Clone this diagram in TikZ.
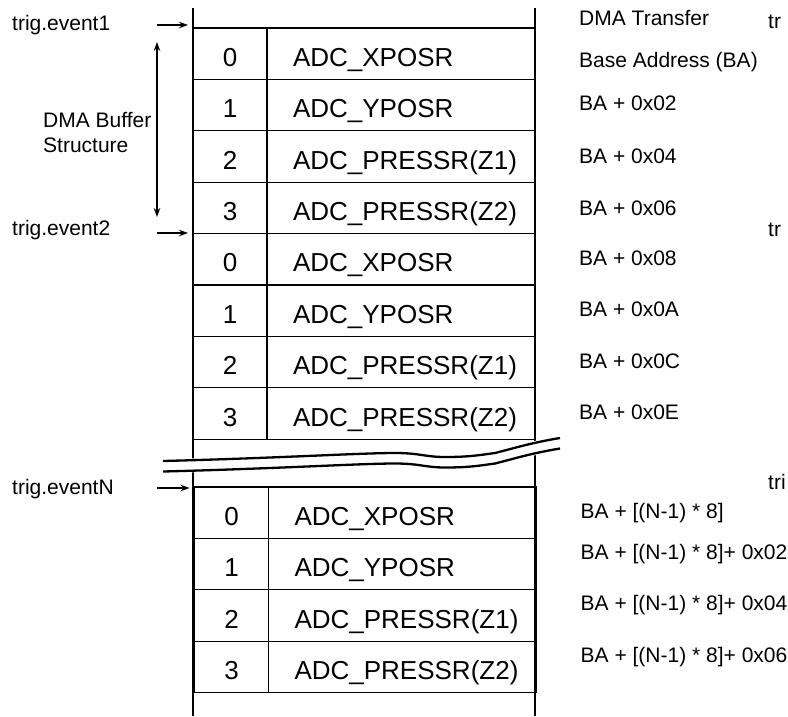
\documentclass[tikz,border=0pt]{standalone}
\usepackage{fontspec}
\setmainfont{Liberation Sans}
\usetikzlibrary{arrows.meta,positioning}
\newcommand{\bufrow}[4]{%
  \node[idx] (#1i) at (#2) {#3};
  \node[reg,right=0pt of #1i] (#1r) {\makebox[216pt][l]{#4}};}
\newcommand{\wavepath}{(163,-461) .. controls (280,-458) and (360,-453) .. (395,-453)
  .. controls (420,-453) and (425,-457) .. (445,-457)
  .. controls (470,-457) and (480,-455) .. (495,-453)
  .. controls (515,-448) and (530,-443) .. (560,-438)}
\begin{document}
\begin{tikzpicture}[x=1pt,y=1pt,
  idx/.style={draw,line width=1.3pt,outer sep=0pt,inner sep=0pt,minimum width=74pt,
              minimum height=51.4pt,text height=27pt,text depth=2pt,
              font=\fontsize{26}{30}\selectfont},
  reg/.style={idx,minimum width=268pt},
  lab/.style={font=\fontsize{21}{25}\selectfont,inner sep=0pt,anchor=west},
  fl/.style={-{Stealth[length=9pt,width=6.5pt]},line width=1.2pt},
  dfl/.style={fl,{Stealth[length=9pt,width=6.5pt]}-{Stealth[length=9pt,width=6.5pt]}},
  wall/.style={line width=2.6pt},
  brk/.style={line width=2.3pt}]
\useasboundingbox (0,0) rectangle (788,-716);
% ---- buffer, first two events
\bufrow{t0}{230,-53.7}{0}{ADC\_XPOSR}
\bufrow{t1}{230,-105.1}{1}{ADC\_YPOSR}
\bufrow{t2}{230,-156.5}{2}{ADC\_PRESSR(Z1)}
\bufrow{t3}{230,-207.9}{3}{ADC\_PRESSR(Z2)}
\bufrow{t4}{230,-259.3}{0}{ADC\_XPOSR}
\bufrow{t5}{230,-310.7}{1}{ADC\_YPOSR}
\bufrow{t6}{230,-362.1}{2}{ADC\_PRESSR(Z1)}
\bufrow{t7}{230,-413.5}{3}{ADC\_PRESSR(Z2)}
% ---- buffer, event N
\bufrow{n0}{231.5,-512.7}{0}{ADC\_XPOSR}
\bufrow{n1}{231.5,-564.1}{1}{ADC\_YPOSR}
\bufrow{n2}{231.5,-615.5}{2}{ADC\_PRESSR(Z1)}
\bufrow{n3}{231.5,-666.9}{3}{ADC\_PRESSR(Z2)}
% ---- side walls and break
\draw[wall] (193,-8) -- (193,-716);
\draw[wall] (535,-8) -- (535,-716);
\draw[white,line width=14pt,yshift=-5.25pt] \wavepath;
\draw[brk] \wavepath;
\draw[brk,yshift=-10.5pt] \wavepath;
% ---- addresses
\node[lab,align=left] (ba) at (579,-41) {DMA Transfer\\[17pt]Base Address (BA)};
\node[lab,right=44pt of t1r,yshift=2pt] (a1) {BA + 0x02};
\node[lab,right=44pt of t2r,yshift=0pt] (a2) {BA + 0x04};
\node[lab,right=44pt of t3r,yshift=0pt] (a3) {BA + 0x06};
\node[lab,right=44pt of t4r,yshift=1pt] (a4) {BA + 0x08};
\node[lab,right=44pt of t5r,yshift=1pt] (a5) {BA + 0x0A};
\node[lab,right=44pt of t6r,yshift=1pt] (a6) {BA + 0x0C};
\node[lab,right=44pt of t7r,yshift=1pt] (a7) {BA + 0x0E};
\node[lab,right=44pt of n0r] (b0) {BA + [(N-1) * 8]};
\node[lab,right=44pt of n1r,yshift=10pt] (b1) {BA + [(N-1) * 8]+ 0x02};
\node[lab,right=44pt of n2r,yshift=10pt] (b2) {BA + [(N-1) * 8]+ 0x04};
\node[lab,right=44pt of n3r,yshift=10pt] (b3) {BA + [(N-1) * 8]+ 0x06};
\node[lab] (tr1) at (768,-22) {tr};
\node[lab] (tr2) at (768,-230) {tr};
\node[lab] (tr3) at (768,-482) {tri};
% ---- trigger events
\node[lab] (ev1) at (12,-25) {trig.event1};
\node[lab] (ev2) at (12,-230) {trig.event2};
\node[lab] (evN) at (12,-489) {trig.eventN};
\node[lab,align=left] (dbs) at (43,-132) {DMA Buffer\\Structure};
\coordinate (s1) at (157,-25);
\coordinate (s2) at (157,-233);
\coordinate (sN) at (157,-488);
\draw[fl,shorten >=5pt] (s1) -- (s1 -| t0i.west);
\draw[fl,shorten >=5pt] (s2) -- (s2 -| t4i.west);
\draw[fl,shorten >=5pt] (sN) -- (sN -| n0i.west);
\coordinate (dt) at (157,-42);
\coordinate (db) at (157,-217);
\draw[dfl] (dt) -- (db);
\end{tikzpicture}
\end{document}
